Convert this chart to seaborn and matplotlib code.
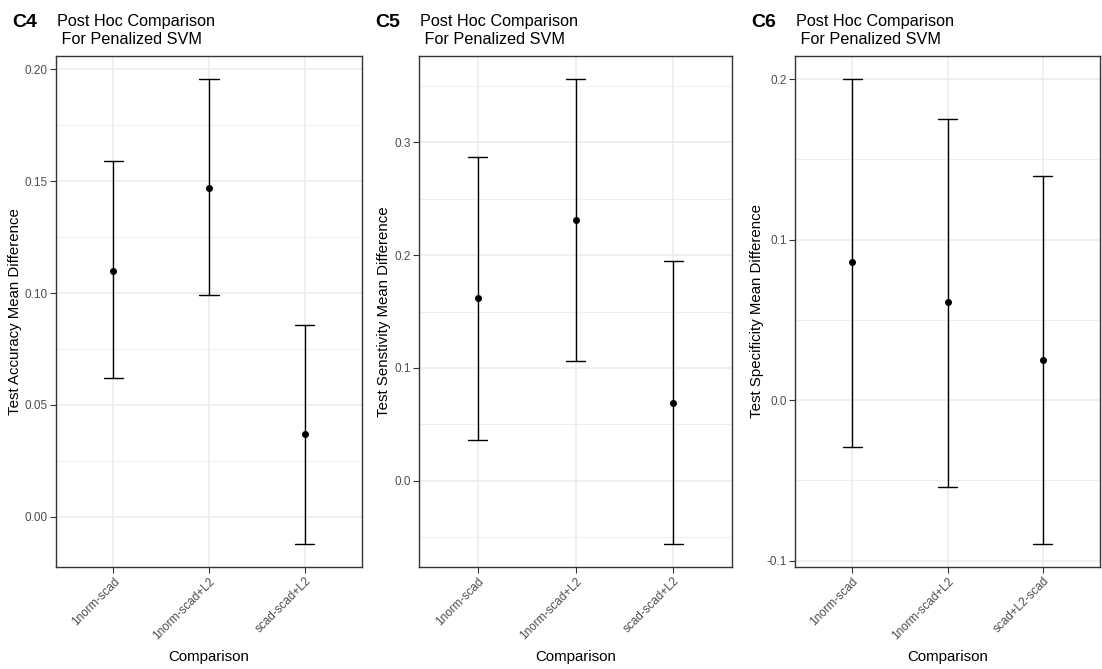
import seaborn as sns
import pandas as pd
import matplotlib.pyplot as plt
from matplotlib.ticker import MultipleLocator

# Post hoc comparisons (Tukey-style) for penalized SVM
comp_c4 = ["1norm-scad", "1norm-scad+L2", "scad-scad+L2"]
acc_diff = [0.110, 0.147, 0.037]
acc_lwr = [0.062, 0.099, -0.012]
acc_upr = [0.159, 0.1955, 0.0855]

comp_c5 = ["1norm-scad", "1norm-scad+L2", "scad-scad+L2"]
sens_diff = [0.162, 0.231, 0.069]
sens_lwr = [0.036, 0.106, -0.056]
sens_upr = [0.287, 0.356, 0.195]

comp_c6 = ["1norm-scad", "1norm-scad+L2", "scad+L2-scad"]
spec_diff = [0.086, 0.061, 0.025]
spec_lwr = [-0.029, -0.054, -0.0895]
spec_upr = [0.200, 0.175, 0.140]

sns.set_style("white")
plt.rcParams['font.family'] = ['Liberation Sans', 'DejaVu Sans']
plt.rcParams['text.color'] = 'black'
plt.rcParams['axes.labelcolor'] = 'black'


def long_table(comp, diff, lwr, upr):
    # three rows per comparison: median -> estimate, full range -> interval
    rows = []
    for c, d, l, u in zip(comp, diff, lwr, upr):
        for v in (l, d, u):
            rows.append({"Comparison": c, "value": v})
    return pd.DataFrame(rows)


panels = [
    ("C4", comp_c4, acc_diff, acc_lwr, acc_upr, "Test Accuracy Mean Difference", 0.05, [56, 362]),
    ("C5", comp_c5, sens_diff, sens_lwr, sens_upr, "Test Senstivity Mean Difference", 0.1, [419, 732]),
    ("C6", comp_c6, spec_diff, spec_lwr, spec_upr, "Test Specificity Mean Difference", 0.1, [795, 1100]),
]

W, H = 1102, 669
fig = plt.figure(figsize=(W / 100, H / 100), dpi=100)
grid_col = '#ebebeb'

for tag, comp, diff, lwr, upr, ylab, step, (x0, x1) in panels:
    top, bot = 56, 567
    ax = fig.add_axes([x0 / W, 1 - bot / H, (x1 - x0) / W, (bot - top) / H])
    df = long_table(comp, diff, lwr, upr)
    sns.pointplot(data=df, x="Comparison", y="value", order=comp,
                  estimator="median", errorbar=("pi", 100),
                  linestyle="none", color="black", marker="o",
                  markersize=3, capsize=0.2,
                  err_kws={'linewidth': 1}, ax=ax)
    ax.set_xlim(-0.6, len(comp) - 0.4)
    lo, hi = min(lwr), max(upr)
    pad = (hi - lo) * 0.05
    ax.set_ylim(lo - pad, hi + pad)
    ax.yaxis.set_major_locator(MultipleLocator(step))
    ax.yaxis.set_minor_locator(MultipleLocator(step / 2))
    if step == 0.05:
        ax.yaxis.set_major_formatter(plt.FormatStrFormatter('%.2f'))
    else:
        ax.yaxis.set_major_formatter(plt.FormatStrFormatter('%.1f'))
    ax.grid(True, which="major", color=grid_col, lw=1.1)
    ax.grid(True, which="minor", axis="y", color=grid_col, lw=0.6)
    ax.set_axisbelow(True)
    for s in ax.spines.values():
        s.set_visible(True)
        s.set_color('#333333')
        s.set_linewidth(1)
    ax.tick_params(which="major", length=4, width=0.8, color='#333333',
                   labelsize=8.5, labelcolor='#4d4d4d', pad=2)
    ax.tick_params(which="minor", length=0)
    ax.tick_params(axis="x", bottom=True)
    ax.tick_params(axis="y", left=True)
    plt.setp(ax.get_xticklabels(), rotation=45, ha="right", rotation_mode="anchor")
    ax.set_xlabel("Comparison", fontsize=10.8, labelpad=6)
    ax.set_ylabel(ylab, fontsize=10.8, labelpad=2)
    fig.text((x0 - 44) / W, 1 - 27 / H, tag, fontsize=14, fontweight="bold")
    fig.text((x0 + 1) / W, 1 - 14 / H, "Post Hoc Comparison\n For Penalized SVM",
             fontsize=11.7, linespacing=1.25, va="top")

fig.savefig("out.png", dpi=100)
